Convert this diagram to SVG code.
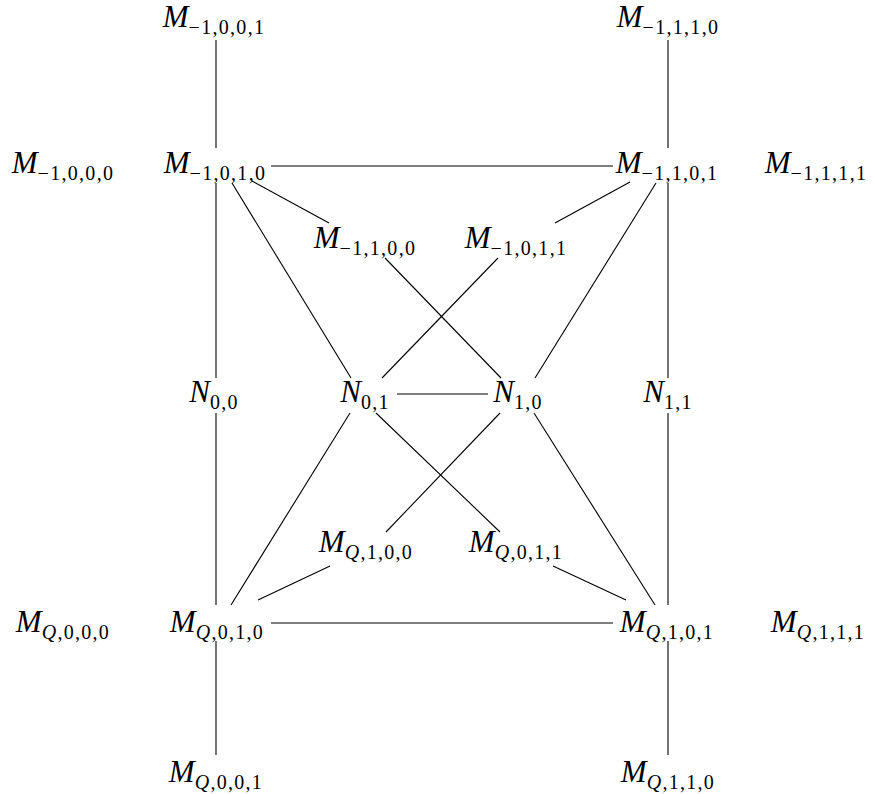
<svg xmlns="http://www.w3.org/2000/svg" width="874" height="794" viewBox="0 0 874 794">
<style>
text{font-family:"Liberation Serif","Times New Roman",serif;font-size:31px;fill:#000;text-anchor:middle}
.v{font-style:italic}
.s{font-size:20px;font-style:normal;letter-spacing:1.3px}
.q{font-style:italic}
#edges line{stroke:#000;stroke-width:1.1}
</style>
<rect width="874" height="794" fill="#fff"/>
<g id="edges">
<line x1="216" y1="40" x2="216" y2="148"/>
<line x1="668" y1="40" x2="668" y2="148"/>
<line x1="271" y1="166" x2="613" y2="166"/>
<line x1="252" y1="181" x2="329" y2="223"/>
<line x1="232" y1="183" x2="351" y2="378"/>
<line x1="216" y1="183" x2="216" y2="378"/>
<line x1="630" y1="182" x2="555" y2="223"/>
<line x1="656" y1="183" x2="535" y2="378"/>
<line x1="668" y1="183" x2="668" y2="378"/>
<line x1="385" y1="258" x2="501" y2="378"/>
<line x1="498" y1="258" x2="382" y2="378"/>
<line x1="397" y1="394" x2="488" y2="394"/>
<line x1="216" y1="413" x2="216" y2="605"/>
<line x1="350" y1="413" x2="231" y2="605"/>
<line x1="376" y1="413" x2="500" y2="532"/>
<line x1="500" y1="413" x2="386" y2="532"/>
<line x1="534" y1="413" x2="655" y2="605"/>
<line x1="668" y1="413" x2="668" y2="605"/>
<line x1="330" y1="566" x2="258" y2="600"/>
<line x1="553" y1="566" x2="626" y2="600"/>
<line x1="271" y1="623" x2="613" y2="623"/>
<line x1="216" y1="641" x2="216" y2="755"/>
<line x1="668" y1="641" x2="668" y2="755"/>
</g>
<g id="m_n1001"><text x="214" y="27"><tspan class="v">M</tspan><tspan class="s" dy="7">−1,0,0,1</tspan></text></g>
<g id="m_n1110"><text x="668" y="27"><tspan class="v">M</tspan><tspan class="s" dy="7">−1,1,1,0</tspan></text></g>
<g id="m_n1000"><text x="63" y="173"><tspan class="v">M</tspan><tspan class="s" dy="7">−1,0,0,0</tspan></text></g>
<g id="m_n1010"><text x="215" y="173"><tspan class="v">M</tspan><tspan class="s" dy="7">−1,0,1,0</tspan></text></g>
<g id="m_n1101"><text x="667" y="173"><tspan class="v">M</tspan><tspan class="s" dy="7">−1,1,0,1</tspan></text></g>
<g id="m_n1111"><text x="816" y="173"><tspan class="v">M</tspan><tspan class="s" dy="7">−1,1,1,1</tspan></text></g>
<g id="m_n1100"><text x="365" y="248"><tspan class="v">M</tspan><tspan class="s" dy="7">−1,1,0,0</tspan></text></g>
<g id="m_n1011"><text x="516" y="248"><tspan class="v">M</tspan><tspan class="s" dy="7">−1,0,1,1</tspan></text></g>
<g id="n00"><text x="214" y="402"><tspan class="v">N</tspan><tspan class="s" dy="7">0,0</tspan></text></g>
<g id="n01"><text x="365" y="402"><tspan class="v">N</tspan><tspan class="s" dy="7">0,1</tspan></text></g>
<g id="n10"><text x="518" y="402"><tspan class="v">N</tspan><tspan class="s" dy="7">1,0</tspan></text></g>
<g id="n11"><text x="668" y="402"><tspan class="v">N</tspan><tspan class="s" dy="7">1,1</tspan></text></g>
<g id="m_q100"><text x="366" y="552"><tspan class="v">M</tspan><tspan class="s" dy="7"><tspan class="q">Q</tspan>,1,0,0</tspan></text></g>
<g id="m_q011"><text x="516" y="552"><tspan class="v">M</tspan><tspan class="s" dy="7"><tspan class="q">Q</tspan>,0,1,1</tspan></text></g>
<g id="m_q000"><text x="63" y="632"><tspan class="v">M</tspan><tspan class="s" dy="7"><tspan class="q">Q</tspan>,0,0,0</tspan></text></g>
<g id="m_q010"><text x="217" y="632"><tspan class="v">M</tspan><tspan class="s" dy="7"><tspan class="q">Q</tspan>,0,1,0</tspan></text></g>
<g id="m_q101"><text x="667" y="632"><tspan class="v">M</tspan><tspan class="s" dy="7"><tspan class="q">Q</tspan>,1,0,1</tspan></text></g>
<g id="m_q111"><text x="818" y="632"><tspan class="v">M</tspan><tspan class="s" dy="7"><tspan class="q">Q</tspan>,1,1,1</tspan></text></g>
<g id="m_q001"><text x="216" y="782"><tspan class="v">M</tspan><tspan class="s" dy="7"><tspan class="q">Q</tspan>,0,0,1</tspan></text></g>
<g id="m_q110"><text x="668" y="782"><tspan class="v">M</tspan><tspan class="s" dy="7"><tspan class="q">Q</tspan>,1,1,0</tspan></text></g>
</svg>
